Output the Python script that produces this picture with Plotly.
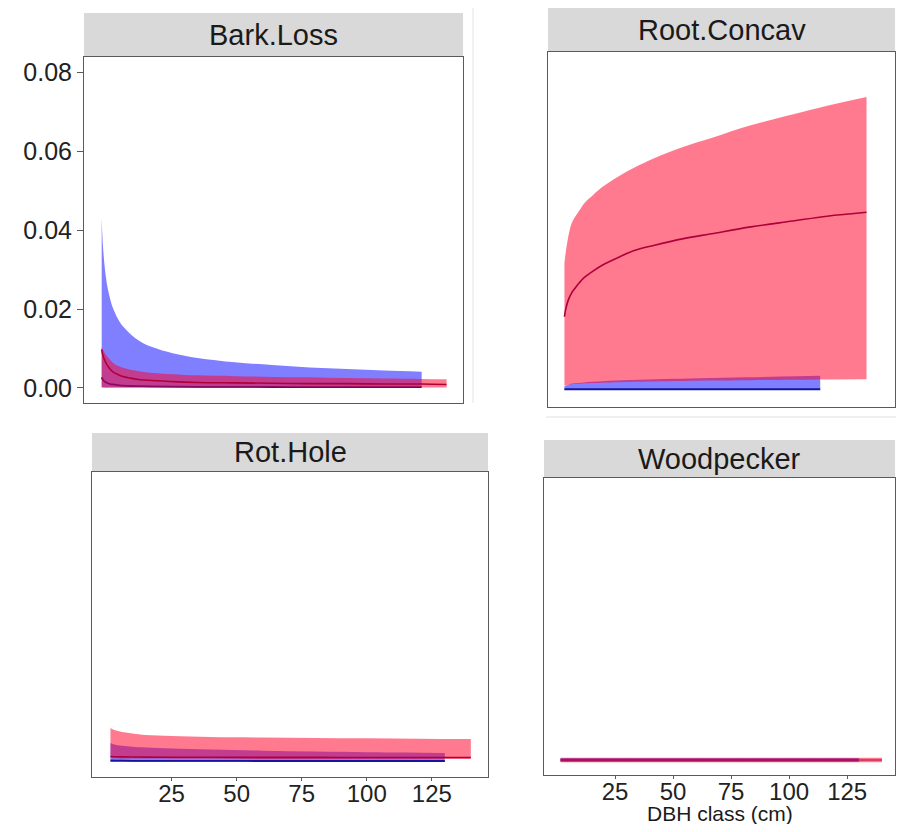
import plotly.graph_objects as go

# ---------------- data ----------------
panels = ["Bark.Loss", "Root.Concav", "Rot.Hole", "Woodpecker"]
x_ticks = [25, 50, 75, 100, 125]
y_ticks_bark = [0.00, 0.02, 0.04, 0.06, 0.08]
y_ticklabels_bark = ["0.00", "0.02", "0.04", "0.06", "0.08"]
x_title = "DBH class (cm)"

# Bark.Loss
bark_blue_x = [1.5, 2, 3, 4, 5, 6, 8, 10, 13, 17, 22, 30, 40, 55, 70, 85, 100, 115, 130]
bark_blue_up = [0.0430, 0.0360, 0.0290, 0.0250, 0.0223, 0.0203, 0.0175, 0.0156, 0.0137, 0.0118,
                0.0103, 0.0088, 0.0076, 0.0065, 0.0058, 0.0052, 0.0048, 0.0044, 0.0041]
bark_blue_lo = [0.0002, 0.0002, 0.0001, 0.0001, 0.0001, 0.0001, 0.0001, 0.0001, 0.0001, 0.0001,
                0.0001, 0.0001, 0.0001, 0.0001, 0.0001, 0.0001, 0.0001, 0.0001, 0.0001]
bark_blue_mid = [0.0027, 0.0021, 0.0015, 0.0012, 0.0010, 0.0009, 0.0007, 0.0006, 0.0005, 0.00045,
                 0.0004, 0.00035, 0.0003, 0.00028, 0.00025, 0.00024, 0.00023, 0.00022, 0.0002]
bark_red_x = [1.5, 2, 3, 4, 5, 6, 8, 10, 13, 17, 22, 30, 40, 55, 70, 85, 100, 115, 130, 140]
bark_red_up = [0.0104, 0.0097, 0.0086, 0.0077, 0.0070, 0.0064, 0.0056, 0.0051, 0.0046, 0.0042,
               0.0038, 0.0035, 0.0032, 0.0030, 0.0028, 0.0027, 0.0025, 0.0024, 0.0023, 0.0022]
bark_red_lo = [0.0001] * 20
bark_red_mid = [0.0098, 0.0083, 0.0066, 0.0055, 0.0047, 0.0041, 0.0034, 0.0029, 0.0025, 0.0021,
                0.0019, 0.0016, 0.0014, 0.0013, 0.0012, 0.0011, 0.0011, 0.0010, 0.0010, 0.0009]

# Root.Concav
root_red_x = [1.5, 2, 3, 4.5, 6, 8, 10, 14, 18, 25, 32, 40, 53, 65, 82, 100, 115, 132]
root_red_up = [0.130, 0.140, 0.155, 0.170, 0.177, 0.184, 0.191, 0.200, 0.208, 0.219, 0.228,
               0.237, 0.249, 0.258, 0.271, 0.282, 0.291, 0.300]
root_red_mid = [0.075, 0.082, 0.091, 0.099, 0.104, 0.110, 0.115, 0.122, 0.128, 0.136, 0.143,
                0.148, 0.155, 0.160, 0.167, 0.173, 0.178, 0.182]
root_red_lo = [0.0050, 0.0050, 0.0055, 0.0060, 0.0062, 0.0065, 0.0068, 0.0072, 0.0075, 0.0080,
               0.0084, 0.0088, 0.0093, 0.0097, 0.0101, 0.0105, 0.0108, 0.0110]
root_blue_x = [1.5, 3, 6, 10, 18, 30, 45, 60, 80, 95, 112]
root_blue_up = [0.0040, 0.0055, 0.0068, 0.0078, 0.0090, 0.0102, 0.0112, 0.0120, 0.0130, 0.0138, 0.0145]
root_blue_mid = [0.0008] * 11
root_blue_lo = [0.0] * 11

# Rot.Hole
rot_red_x = [1.5, 3, 6, 10, 15, 25, 40, 60, 80, 100, 120, 140]
rot_red_up = [0.034, 0.032, 0.030, 0.0285, 0.027, 0.026, 0.025, 0.0245, 0.024, 0.0237, 0.0233, 0.023]
rot_red_mid = [0.0055, 0.0053, 0.0051, 0.0050, 0.0049, 0.0048, 0.0047, 0.0046, 0.0046, 0.0045, 0.0045, 0.0045]
rot_red_lo = [0.0040, 0.0038, 0.0036, 0.0035, 0.0034, 0.0033, 0.0032, 0.0031, 0.0031, 0.0030, 0.0030, 0.0030]
rot_blue_x = [1.5, 3, 6, 10, 15, 25, 40, 60, 80, 100, 115, 130]
rot_blue_up = [0.019, 0.0175, 0.0162, 0.0153, 0.0145, 0.0136, 0.0125, 0.0113, 0.0105, 0.0098, 0.0094, 0.009]
rot_blue_mid = [0.0015, 0.0014, 0.0013, 0.0012, 0.0012, 0.0011, 0.0011, 0.0010, 0.0010, 0.0010, 0.0010, 0.0010]
rot_blue_lo = [0.0] * 12

# Woodpecker
wood_red_x = [1.5, 20, 40, 60, 80, 100, 120, 140]
wood_red_up = [0.0052] * 8
wood_red_mid = [0.0030] * 8
wood_red_lo = [0.0008] * 8
wood_blue_x = [1.5, 20, 40, 60, 80, 100, 115, 130]
wood_blue_up = [0.0050] * 8
wood_blue_mid = [0.0030] * 8
wood_blue_lo = [0.0010] * 8

# ---------------- styling / layout ----------------
OFF = 8                     # default page margin of the html body
W, H = 904 - 2 * OFF, 832 - 2 * OFF
BLUE_FILL = "rgba(0,0,255,0.5)"
RED_FILL = "rgba(255,0,40,0.52)"
BLUE_LINE = "#1414a0"
RED_LINE = "#b0003a"
FONT = "Liberation Sans, Arial, Helvetica, sans-serif"


def fx(px):
    return (px - OFF) / W


def fy(py):
    return 1 - (py - OFF) / H


# pixel boxes (window pixels): plot area and strip top
boxes = {
    "Bark.Loss": dict(l=84, t=57, r=463, b=403, st=13),
    "Root.Concav": dict(l=548, t=52, r=895, b=407, st=8),
    "Rot.Hole": dict(l=92, t=472, r=488, b=777, st=433),
    "Woodpecker": dict(l=544, t=478, r=895, b=775, st=440),
}
y_ranges = {
    "Bark.Loss": [-0.0038, 0.0838],
    "Root.Concav": [-0.0174, 0.3461],
    "Rot.Hole": [-0.015, 0.290],
    "Woodpecker": [-0.012, 0.285],
}
x_ranges = {
    "Bark.Loss": [-5.6, 146.6],
    "Root.Concav": [-5.6, 144.3],
    "Rot.Hole": [-5.6, 146.6],
    "Woodpecker": [-5.6, 145.6],
}

series = {
    "Bark.Loss": [(bark_blue_x, bark_blue_lo, bark_blue_up, bark_blue_mid, "blue"),
                  (bark_red_x, bark_red_lo, bark_red_up, bark_red_mid, "red")],
    "Root.Concav": [(root_blue_x, root_blue_lo, root_blue_up, root_blue_mid, "blue"),
                    (root_red_x, root_red_lo, root_red_up, root_red_mid, "red")],
    "Rot.Hole": [(rot_blue_x, rot_blue_lo, rot_blue_up, rot_blue_mid, "blue"),
                 (rot_red_x, rot_red_lo, rot_red_up, rot_red_mid, "red")],
    "Woodpecker": [(wood_blue_x, wood_blue_lo, wood_blue_up, wood_blue_mid, "blue"),
                   (wood_red_x, wood_red_lo, wood_red_up, wood_red_mid, "red")],
}

fig = go.Figure()
layout = dict(
    width=W, height=H, margin=dict(l=0, r=0, t=0, b=0, pad=0, autoexpand=False),
    paper_bgcolor="white", plot_bgcolor="white", showlegend=False,
    font=dict(family=FONT, color="#222222"),
)
shapes = []
annotations = []

for i, name in enumerate(panels):
    k = "" if i == 0 else str(i + 1)
    xa, ya = "x" + k, "y" + k
    bx = boxes[name]
    thin = name == "Woodpecker"
    for (xs, lo, up, mid, col) in series[name]:
        fill = BLUE_FILL if col == "blue" else RED_FILL
        lc = BLUE_LINE if col == "blue" else RED_LINE
        fig.add_trace(go.Scatter(x=xs, y=lo, mode="lines", line=dict(width=0, shape="spline"),
                                 xaxis=xa, yaxis=ya, hoverinfo="skip"))
        fig.add_trace(go.Scatter(x=xs, y=up, mode="lines", line=dict(width=0, shape="spline"),
                                 fill="tonexty", fillcolor=fill, xaxis=xa, yaxis=ya, hoverinfo="skip"))
        lw = 1.0 if thin else (1.8 if col == "blue" else 1.6)
        fig.add_trace(go.Scatter(x=xs, y=mid, mode="lines",
                                 line=dict(width=lw, color=lc, shape="spline"),
                                 xaxis=xa, yaxis=ya))
    bottom = name in ("Rot.Hole", "Woodpecker")
    xdict = dict(
        domain=[fx(bx["l"]), fx(bx["r"])], range=x_ranges[name], anchor=ya, automargin=False,
        showgrid=False, zeroline=False, showline=True, mirror=True,
        linecolor="#5a5a5a", linewidth=1,
        tickvals=x_ticks if bottom else [], ticks="outside" if bottom else "",
        ticklen=3, tickcolor="#5a5a5a", showticklabels=bottom, ticklabelstandoff=-8,
        tickfont=dict(size=24, color="#222222", family=FONT),
    )
    bark = name == "Bark.Loss"
    ydict = dict(
        domain=[fy(bx["b"]), fy(bx["t"])], range=y_ranges[name], anchor=xa, automargin=False,
        showgrid=False, zeroline=False, showline=True, mirror=True,
        linecolor="#5a5a5a", linewidth=1,
        tickvals=y_ticks_bark if bark else [], ticktext=y_ticklabels_bark if bark else None,
        ticks="outside" if bark else "", ticklen=6, tickcolor="#5a5a5a",
        showticklabels=bark, tickfont=dict(size=25, color="#222222", family=FONT),
    )
    layout["xaxis" + k] = xdict
    layout["yaxis" + k] = ydict
    # facet strip
    shapes.append(dict(type="rect", xref="paper", yref="paper",
                       x0=fx(bx["l"]), x1=fx(bx["r"]), y0=fy(bx["t"]), y1=fy(bx["st"]),
                       fillcolor="#D9D9D9", line=dict(width=0), layer="below"))
    annotations.append(dict(text=name, xref="paper", yref="paper",
                            x=fx((bx["l"] + bx["r"]) / 2), y=fy((bx["st"] + bx["t"]) / 2),
                            xanchor="center", yanchor="middle", showarrow=False,
                            font=dict(size=29, color="#1a1a1a", family=FONT)))

# faint crop artefacts of the original composite
shapes.append(dict(type="line", xref="paper", yref="paper", x0=fx(473), x1=fx(473),
                   y0=fy(403), y1=1.0, line=dict(color="#e4e4e4", width=1)))
shapes.append(dict(type="line", xref="paper", yref="paper", x0=fx(546), x1=1.0,
                   y0=fy(417), y1=fy(417), line=dict(color="#e0e0e0", width=1)))

annotations.append(dict(text=x_title, xref="paper", yref="paper", x=fx(720), y=fy(813),
                        xanchor="center", yanchor="middle", showarrow=False,
                        font=dict(size=21, color="#1a1a1a", family=FONT)))

layout["shapes"] = shapes
layout["annotations"] = annotations
fig.update_layout(**layout)
fig.write_html("out.html")
